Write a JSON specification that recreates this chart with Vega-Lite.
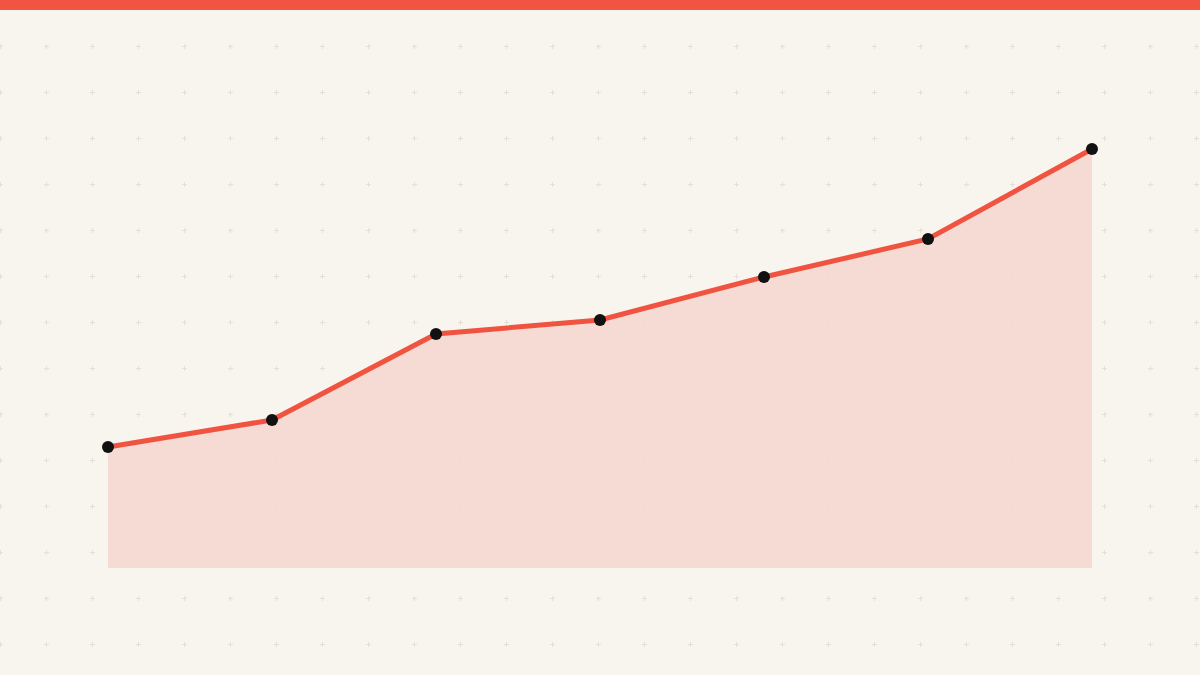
{
  "$schema": "https://vega.github.io/schema/vega-lite/v6.json",
  "width": 1200,
  "height": 675,
  "autosize": {"type": "fit", "contains": "padding"},
  "padding": 0,
  "background": "#f8f5ef",
  "config": {"view": {"stroke": null}},
  "datasets": {
    "series": [
      {"step": 0, "value": 121},
      {"step": 1, "value": 148},
      {"step": 2, "value": 234},
      {"step": 3, "value": 248},
      {"step": 4, "value": 291},
      {"step": 5, "value": 329},
      {"step": 6, "value": 419}
    ],
    "band": [{"x0": 0, "x1": 1200, "y0": 0, "y1": 10}]
  },
  "layer": [
    {
      "data": {"name": "band"},
      "mark": {"type": "rect", "color": "#f15441"},
      "encoding": {
        "x": {
          "field": "x0", "type": "quantitative",
          "scale": {"domain": [0, 1200], "nice": false, "zero": false},
          "axis": {
            "orient": "top", "values": [0, 46, 92, 138, 184, 230, 276, 322, 368, 414, 460, 506, 552, 598, 644, 690, 736, 782, 828, 874, 920, 966, 1012, 1058, 1104, 1150, 1196],
            "labels": false, "ticks": false, "domain": false, "title": null,
            "grid": true, "gridColor": "#e4e0d9", "gridWidth": 1, "gridDash": [5, 41], "gridDashOffset": 2.5
          }
        },
        "x2": {"field": "x1"},
        "y": {
          "field": "y0", "type": "quantitative",
          "scale": {"domain": [0, 675], "nice": false, "zero": false, "reverse": true},
          "axis": {
            "orient": "left", "values": [0, 46, 92, 138, 184, 230, 276, 322, 368, 414, 460, 506, 552, 598, 644],
            "labels": false, "ticks": false, "domain": false, "title": null,
            "grid": true, "gridColor": "#e4e0d9", "gridWidth": 1, "gridDash": [5, 41], "gridDashOffset": 2.5
          }
        },
        "y2": {"field": "y1"}
      }
    },
    {
      "data": {"name": "series"},
      "encoding": {
        "x": {
          "field": "step", "type": "quantitative",
          "scale": {"domain": [-0.6585, 6.6585], "nice": false, "zero": false},
          "axis": null
        },
        "y": {
          "field": "value", "type": "quantitative",
          "scale": {"domain": [-107, 568], "nice": false, "zero": false},
          "axis": null
        }
      },
      "layer": [
        {"mark": {"type": "area", "color": "#f5d8d1", "opacity": 0.92}, "encoding": {"y2": {"datum": 0}}},
        {"mark": {"type": "line", "color": "#f05440", "strokeWidth": 5}},
        {"mark": {"type": "circle", "color": "#111111", "size": 145, "opacity": 1}}
      ]
    }
  ],
  "resolve": {"scale": {"x": "independent", "y": "independent"}, "axis": {"x": "independent", "y": "independent"}}
}
